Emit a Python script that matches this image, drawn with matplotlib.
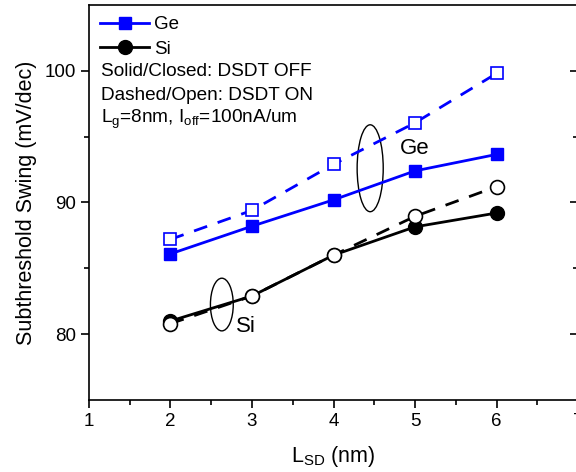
import matplotlib
matplotlib.use("Agg")
import matplotlib.pyplot as plt
from matplotlib.patches import Ellipse

plt.rcParams['font.family'] = ['Liberation Sans', 'DejaVu Sans']
plt.rcParams['mathtext.fontset'] = 'custom'
plt.rcParams['mathtext.rm'] = 'Liberation Sans'
plt.rcParams['mathtext.it'] = 'Liberation Sans'

# data
lsd = [2, 3, 4, 5, 6]
ge_off = [86.1, 88.2, 90.2, 92.4, 93.65]
ge_on = [87.2, 89.4, 92.9, 96.05, 99.8]
si_off = [81.0, 82.9, 86.0, 88.15, 89.2]
si_on = [80.8, 82.9, 86.0, 88.95, 91.2]

fig = plt.figure(figsize=(5.76, 4.72), dpi=100)
ax = fig.add_axes([0.1545, 0.1525, 0.849, 0.837])

blue = '#0000ff'
ax.plot(lsd, ge_off, '-', color=blue, lw=2, marker='s', ms=9, mfc=blue, mec=blue, label='Ge', zorder=3)
ax.plot(lsd, ge_on, '--', color=blue, lw=2, dashes=(5, 4), marker='s', ms=9, mfc='white', mec=blue, mew=1.2, zorder=3)
ax.plot(lsd, si_off, '-', color='black', lw=2, marker='o', ms=10, mfc='black', mec='black', label='Si', zorder=3)
ax.plot(lsd, si_on, '--', color='black', lw=2, dashes=(5, 4), marker='o', ms=10, mfc='white', mec='black', mew=1.2, zorder=4)

# ellipses marking the groups
ax.add_patch(Ellipse((4.45, 92.6), 0.32, 6.6, fill=False, ec='black', lw=1))
ax.add_patch(Ellipse((2.63, 82.25), 0.28, 4.0, fill=False, ec='black', lw=1))
ax.text(5.0, 94.1, 'Ge', fontsize=16, ha='center', va='center')
ax.text(2.93, 80.6, 'Si', fontsize=16, ha='center', va='center')

leg = ax.legend(loc='upper left', frameon=False, fontsize=13.5, handlelength=2.6,
                handletextpad=0.25, borderaxespad=0.2, labelspacing=0.4,
                bbox_to_anchor=(0.0, 1.0))

notes = ['Solid/Closed: DSDT OFF', 'Dashed/Open: DSDT ON',
         r'L$_\mathregular{g}$=8nm, I$_\mathregular{off}$=100nA/um']
for i, s in enumerate(notes):
    ax.text(0.024, 0.832 - i * 0.0607, s, transform=ax.transAxes, fontsize=13.7,
            ha='left', va='center')

ax.set_xlim(1, 7)
ax.set_ylim(75, 105)
ax.set_xticks([1, 2, 3, 4, 5, 6, 7])
ax.set_xticks([1.5, 2.5, 3.5, 4.5, 5.5, 6.5], minor=True)
ax.set_yticks([80, 90, 100])
ax.set_yticks([85, 95], minor=True)
ax.tick_params(which='both', labelsize=13.5, width=1.2, direction='out', top=False, right=False)
ax.tick_params(which='major', length=6)
ax.tick_params(which='minor', length=3.5)
for sp in ax.spines.values():
    sp.set_linewidth(1.2)

# right side ticks point inward
rax = ax.secondary_yaxis('right')
rax.set_yticks([80, 90, 100])
rax.set_yticks([85, 95], minor=True)
rax.tick_params(which='both', direction='in', width=1.2, labelright=False)
rax.tick_params(which='major', length=6)
rax.tick_params(which='minor', length=3.5)
rax.spines['right'].set_linewidth(1.2)

ax.set_xlabel(r'L$_\mathregular{SD}$ (nm)', fontsize=15.5, labelpad=10)
ax.set_ylabel('Subthreshold Swing (mV/dec)', fontsize=15.5, labelpad=5)

fig.savefig('out.png', dpi=100)
